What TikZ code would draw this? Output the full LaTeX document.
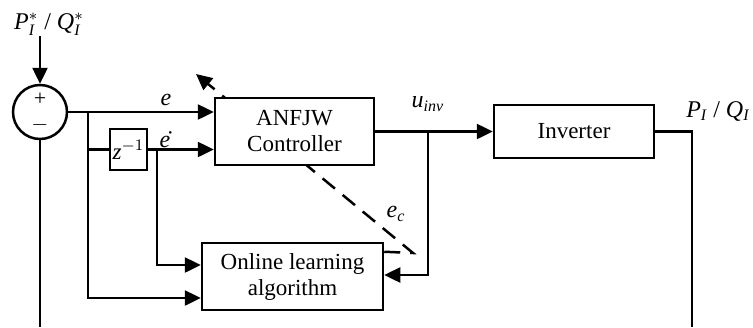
\documentclass[tikz,border=0pt]{standalone}
\usepackage{amsmath}
\usepackage{fontspec}
\setmainfont{Liberation Serif}
\usetikzlibrary{arrows.meta, positioning, calc, backgrounds}

\begin{document}
\begin{tikzpicture}[x=0.5pt, y=-0.5pt, line width=1.25pt,
  block/.style={draw, fill=white, inner sep=0pt, align=center, font=\fontsize{11.5}{13}\selectfont},
  lbl/.style={font=\fontsize{12}{14}\selectfont, inner sep=0pt},
  arr/.style={-{Triangle[length=8pt,width=7.5pt]}}]
\useasboundingbox (0,0) rectangle (753,327);

% Blocks
\node[draw, circle, minimum size=27pt, inner sep=0pt] (sum) at (40,112) {};
\node[font=\fontsize{11}{11}\selectfont, inner sep=0pt] (plus) at (40,99) {+};
\node[font=\fontsize{11}{11}\selectfont, inner sep=0pt] (minus) at (40,125) {$-$};
\node[block, minimum width=79.5pt, minimum height=33.5pt] (ctrl) at (294.5,131.5) {ANFJW\\Controller};
\node[block, minimum width=18.5pt, minimum height=20.5pt] (delay) at (128.5,149.5) {\textit{z}$^{-1}$};
\node[block, minimum width=90.5pt, minimum height=33.5pt] (learn) at (292.5,276.5) {Online learning\\algorithm};
\node[block, minimum width=80pt, minimum height=26.5pt] (inv) at (574,131.5) {Inverter};

% Signal labels
\node[lbl] (pref) at (49,24) {\textit{P}$_{\textit{I}}^{*}$ / \textit{Q}$_{\textit{I}}^{*}$};
\node[lbl] (elbl) at (166,100) {\textit{e}};
\node[lbl] (edlbl) at (165,140) {\.{\textit{e}}};
\node[lbl] (ulbl) at (428,104) {\textit{u}$_{\textit{inv}}$};
\node[lbl] (eclbl) at (396,214) {\textit{e}$_{\textit{c}}$};
\node[lbl, anchor=west] (plbl) at (685,111) {\textit{P}$_{\textit{I}}$ / \textit{Q}$_{\textit{I}}$};

% Branch points
\coordinate (eb) at (88,112);
\coordinate (db) at (157,150);
\coordinate (ub) at (428,131.5);
\coordinate (out) at (692,131.5);
\coordinate (fbr) at (692,327);
\coordinate (fbl) at (40,327);

% Forward path
\draw[arr] (pref.south -| sum.north) -- (sum.north);
\draw[arr] (sum.east) -- (sum.east -| ctrl.west);
\draw (eb) |- (delay.west);
\draw[arr] (delay.east) -- (delay.east -| ctrl.west);
\draw[arr] (ctrl.east) -- (inv.west);

% To the learning block
\draw[arr] (eb) |- ($(learn.west)+(0,21.5)$);
\draw[arr] (db) |- ($(learn.west)+(0,-11.5)$);
\draw[arr] (ub) |- ($(learn.east)+(0,-1.5)$);

% Feedback
\draw (inv.east) -- (out) -- (fbr);
\draw (sum.south) -- (fbl);

% Adaptation (behind the controller)
\coordinate (ecs) at ($(learn.north east)+(0,10)$);
\coordinate (ecc) at (413,253);
\coordinate (ect) at (196,74);
\begin{scope}[on background layer]
\draw[arr, line width=1.25pt, dash pattern=on 8pt off 5pt] (ecs) -- (ecc) -- (ect);
\end{scope}
\end{tikzpicture}
\end{document}
